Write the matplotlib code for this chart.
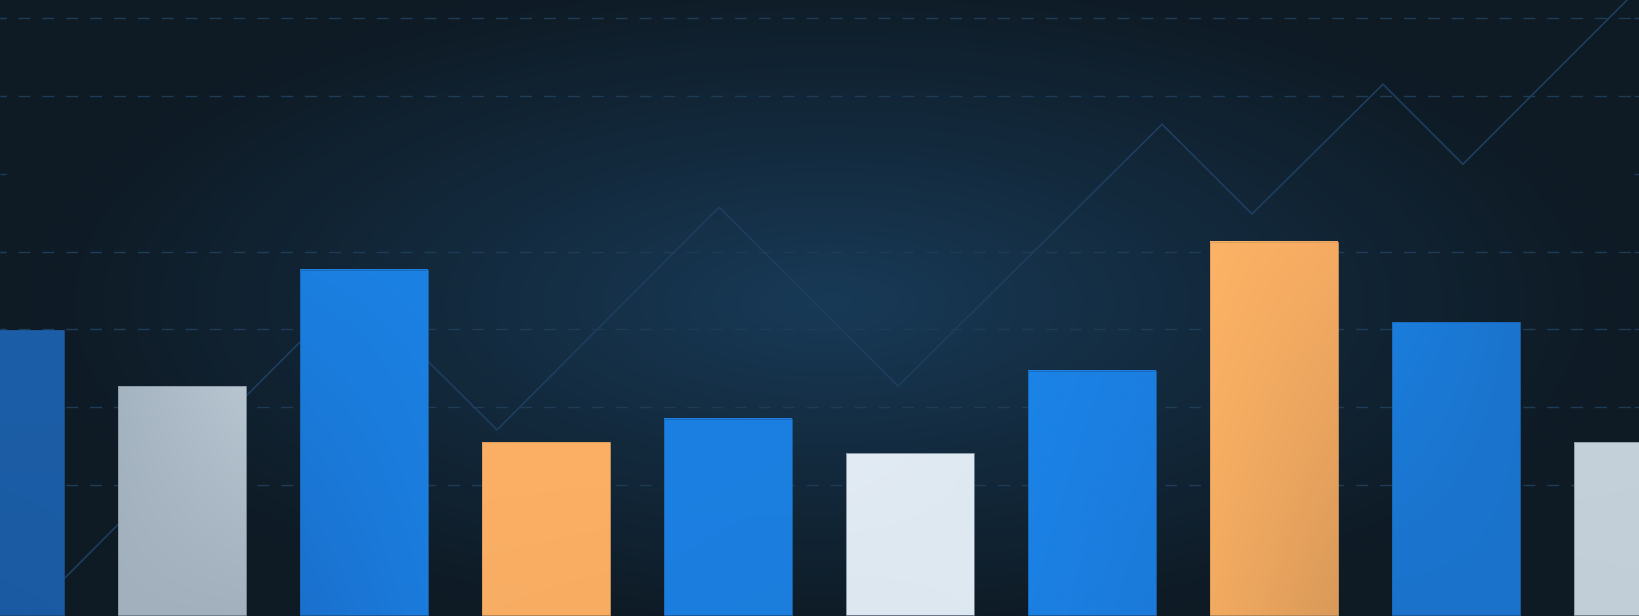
import numpy as np
import matplotlib
matplotlib.use("Agg")
import matplotlib.pyplot as plt
from matplotlib.colors import to_rgb

# bar data (x = slot index, value = bar height)
bar_x = [0, 1, 2, 3, 4, 5, 6, 7, 8, 9]
bar_values = [46.3, 37.2, 56.1, 28.1, 31.9, 26.3, 39.7, 60.7, 47.6, 28.1]

# corner colours of each bar: top-left, top-right, bottom-left, bottom-right
bar_colors = [
    ["#1c5fa8", "#1c5ea7", "#1a5aa2", "#1a5ba4"],
    ["#a5b4c1", "#b6c5d0", "#a2b0bd", "#a3b1be"],
    ["#1b7fe0", "#1b81e3", "#1a70cd", "#1b7bdc"],
    ["#fcb066", "#fbb065", "#f7ad63", "#f8ac62"],
    ["#1b80e3", "#1b80e2", "#1c7edf", "#1c7edd"],
    ["#e2ebf3", "#dfe9f1", "#dce7ef", "#dde8f0"],
    ["#1b83e7", "#1b7ee0", "#1b80e3", "#1b7ad9"],
    ["#fcb365", "#f5ab62", "#f2aa60", "#da9a5a"],
    ["#1b7ddc", "#1a74cd", "#1a72ca", "#1a72ca"],
    ["#c4d0da", "#c3cfd9", "#c1cdd7", "#c2ced8"],
]
edge_colors = ["#1a5596", "#8796a3", "#1a66b4", "#d99c5c", "#1a66b4",
               "#7a8a99", "#1a66b4", "#d99c5c", "#1a66b4", "#8796a3"]

# background trend line
line_x = [0.0, 1.945, 2.731, 3.951, 4.934, 6.385, 6.879, 7.599, 8.038, 9.011]
line_y = [-4.55, 53.2, 30.1, 66.3, 37.2, 79.8, 65.2, 86.3, 73.3, 102.1]

# horizontal guide lines (the third one only shows as edge ticks)
grid_y = [97.1, 84.4, 71.7, 59.0, 46.5, 33.8, 21.1]
hidden_grid = [71.7]

x_lim = (0, 9.011)
y_lim = (-0.16, 100)
bar_width = 0.703
grid_color = "#1f3c57"

fig = plt.figure(figsize=(16.4, 6.16), dpi=100)
ax = fig.add_axes([0, 0, 1, 1])

# radial background
H, W = 308, 820
yy, xx = np.mgrid[0:H, 0:W]
cx, cy = 0.505 * W, 0.49 * H
r = np.sqrt(((xx - cx) / (0.50 * W)) ** 2 + ((yy - cy) / (0.56 * H)) ** 2)
t = np.clip(1 - r, 0, 1) ** 1.1
inner = np.array(to_rgb("#183a57"))
outer = np.array(to_rgb("#0e1a24"))
bg = outer + (inner - outer) * t[..., None]
ax.imshow(bg, extent=(x_lim[0], x_lim[1], y_lim[0], y_lim[1]),
          aspect="auto", origin="upper", zorder=0, interpolation="bilinear")

# dashed guides
for gy in grid_y:
    if gy in hidden_grid:
        continue
    ax.plot(x_lim, [gy, gy], color=grid_color, linewidth=1.0,
            linestyle=(4.3, (8.6, 8.6)), zorder=1)

ax.plot(line_x, line_y, color="#1d3e5e", linewidth=1.2, zorder=2)

# bars with gradient fill
for xi, val, cols in zip(bar_x, bar_values, bar_colors):
    c = np.array([to_rgb(k) for k in cols])
    u = np.linspace(0, 1, 32)[None, :, None]
    v = np.linspace(0, 1, 64)[:, None, None]
    top = c[0] * (1 - u) + c[1] * u
    bot = c[2] * (1 - u) + c[3] * u
    grad = top * (1 - v) + bot * v
    ax.imshow(grad, extent=(xi - bar_width / 2, xi + bar_width / 2, 0, val),
              aspect="auto", origin="upper", zorder=3, interpolation="bilinear")

ax.bar(bar_x, bar_values, width=bar_width, fill=False, edgecolor=edge_colors,
       linewidth=0.6, zorder=4)

ax.set_xlim(*x_lim)
ax.set_ylim(*y_lim)
ax.set_yticks(grid_y)
ax.set_xticks([])
ax.tick_params(axis="y", direction="in", length=4.3, width=1.0,
               color=grid_color, left=True, right=True,
               labelleft=False, labelright=False)
for s in ax.spines.values():
    s.set_visible(False)
fig.patch.set_facecolor("#0e1a24")

fig.savefig("out.png", dpi=100, facecolor=fig.get_facecolor())
